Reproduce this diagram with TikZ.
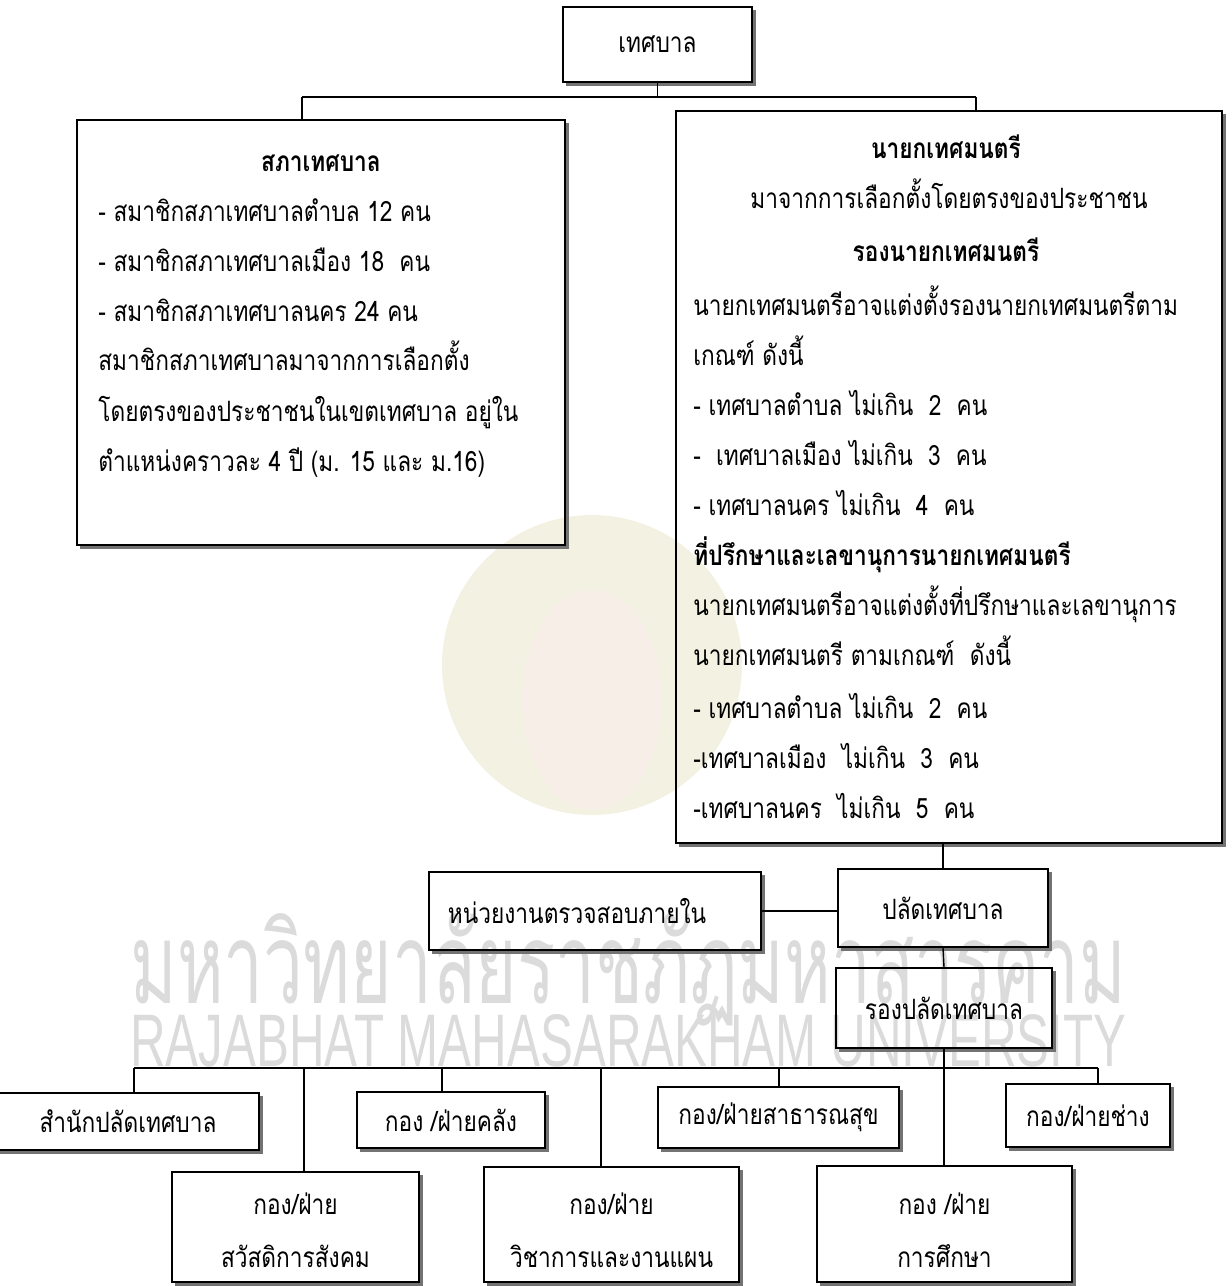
\documentclass[tikz,border=0pt]{standalone}
\usepackage{fontspec}
\setmainfont[Script=Thai, FakeStretch=0.81]{Loma}
\newfontfamily\wmthai[Script=Thai]{Loma}
\newfontfamily\wmlatin{Liberation Sans}
\usetikzlibrary{calc}
\tikzset{
  box/.style={draw, line width=0.75pt, rectangle, inner sep=0pt, align=center, font=\fontsize{14}{26.5}\selectfont},
  conn/.style={line width=0.7pt},
  shadowline/.style={line width=1.1pt, draw=black!55},
  ln/.style={inner sep=0pt, anchor=base west, font=\fontsize{14}{14}\selectfont},
  lc/.style={inner sep=0pt, anchor=base, font=\fontsize{14}{14}\selectfont},
  hd/.style={lc, font=\fontsize{14}{14}\selectfont\bfseries},
  hdl/.style={ln, font=\fontsize{14}{14}\selectfont\bfseries},
  wm/.style={inner sep=0pt, text=black!14},
}
\begin{document}
\begin{tikzpicture}[x=0.5pt,y=-0.5pt]
\useasboundingbox (0,0) rectangle (1232,1286);
% watermark
\fill[fill={rgb,255:red,243;green,242;blue,226}] (592,665) circle (150);
\fill[fill={rgb,255:red,247;green,238;blue,231}] (592,700) ellipse (70 and 110);
\node[wm, anchor=base west] (wmth) at (130,1003) {\resizebox{498pt}{45pt}{\wmthai มหาวิทยาลัยราชภัฏมหาสารคาม}};
\node[wm, anchor=base west] (wmen) at (130,1066) {\resizebox{498pt}{26pt}{\wmlatin RAJABHAT MAHASARAKHAM UNIVERSITY}};

% boxes
\node[box, minimum width=94.5pt, minimum height=37.5pt] (top) at (657.5,44.5) {เทศบาล};
\node[box, minimum width=244pt, minimum height=212.5pt] (sapha) at (321,332.5) {};
\node[box, minimum width=273pt, minimum height=366pt] (nayok) at (949,477) {};
\node[box, minimum width=166pt, minimum height=39pt] (audit) at (595,911) {\hspace*{-18pt}หน่วยงานตรวจสอบภายใน};
\node[box, minimum width=105pt, minimum height=39pt] (palad) at (943,908) {ปลัดเทศบาล};
\node[box, minimum width=108pt, minimum height=40pt] (rong) at (944,1008) {รองปลัดเทศบาล};
\node[box, minimum width=131pt, minimum height=28.5pt] (samnak) at (128,1121.5) {สำนักปลัดเทศบาล};
\node[box, minimum width=94pt, minimum height=28pt] (khlang) at (451,1120) {กอง /ฝ่ายคลัง};
\node[box, minimum width=120.5pt, minimum height=30.5pt] (satha) at (778.5,1117.5) {กอง/ฝ่ายสาธารณสุข};
\node[box, minimum width=82pt, minimum height=31.5pt] (chang) at (1088,1115.5) {กอง/ฝ่ายช่าง};
\node[box, minimum width=123.5pt, minimum height=55pt] (sawat) at (295.5,1227) {};
\node[box, minimum width=127.5pt, minimum height=57.5pt] (wicha) at (611.5,1224.5) {};
\node[box, minimum width=127.5pt, minimum height=58pt] (suksa) at (944.5,1224) {};

% texts of the two-line boxes
\node[lc] (sawat1) at (sawat.center |- 0,1214) {กอง/ฝ่าย};
\node[lc] (sawat2) at (sawat.center |- 0,1267) {สวัสดิการสังคม};
\node[lc] (wicha1) at (wicha.center |- 0,1214) {กอง/ฝ่าย};
\node[lc] (wicha2) at (wicha.center |- 0,1267) {วิชาการและงานแผน};
\node[lc] (suksa1) at (suksa.center |- 0,1214) {กอง /ฝ่าย};
\node[lc] (suksa2) at (suksa.center |- 0,1267) {การศึกษา};

% shadows
\foreach \n in {top,sapha,nayok,audit,palad,rong,samnak,khlang,satha,chang,sawat,wicha,suksa}
  \draw[shadowline] ([xshift=0.9pt,yshift=-2pt]\n.north east) -- ([xshift=0.9pt,yshift=-0.9pt]\n.south east) -- ([xshift=2pt,yshift=-0.9pt]\n.south west);

% text of sapha
\node[hd] (s1) at (321,171) {สภาเทศบาล};
\node[ln] (s2) at (98,221) {- สมาชิกสภาเทศบาลตำบล 12 คน};
\node[ln] (s3) at (98,271) {- สมาชิกสภาเทศบาลเมือง 18~ คน};
\node[ln] (s4) at (98,321) {- สมาชิกสภาเทศบาลนคร 24 คน};
\node[ln] (s5) at (98,370) {สมาชิกสภาเทศบาลมาจากการเลือกตั้ง};
\node[ln] (s6) at (98,421) {โดยตรงของประชาชนในเขตเทศบาล อยู่ใน};
\node[ln] (s7) at (98,471) {ตำแหน่งคราวละ 4 ปี (ม. 15 และ ม.16)};

% text of nayok
\node[hd] (n1) at (946,158) {นายกเทศมนตรี};
\node[lc] (n2) at (949,208) {มาจากการเลือกตั้งโดยตรงของประชาชน};
\node[hd] (n3) at (946,261) {รองนายกเทศมนตรี};
\node[ln] (n4) at (693,315) {นายกเทศมนตรีอาจแต่งตั้งรองนายกเทศมนตรีตาม};
\node[ln] (n5) at (693,365) {เกณฑ์ ดังนี้};
\node[ln] (n6) at (693,415) {- เทศบาลตำบล ไม่เกิน~ 2~ คน};
\node[ln] (n7) at (693,465) {-~ เทศบาลเมือง ไม่เกิน~ 3~ คน};
\node[ln] (n8) at (693,515) {- เทศบาลนคร ไม่เกิน~ 4~ คน};
\node[hdl] (n9) at (693,565) {ที่ปรึกษาและเลขานุการนายกเทศมนตรี};
\node[ln] (n10) at (693,615) {นายกเทศมนตรีอาจแต่งตั้งที่ปรึกษาและเลขานุการ};
\node[ln] (n11) at (693,665) {นายกเทศมนตรี ตามเกณฑ์~ ดังนี้};
\node[ln] (n12) at (693,718) {- เทศบาลตำบล ไม่เกิน~ 2~ คน};
\node[ln] (n13) at (693,768) {-เทศบาลเมือง~ ไม่เกิน~ 3~ คน};
\node[ln] (n14) at (693,818) {-เทศบาลนคร~ ไม่เกิน~ 5~ คน};

% connectors top
\coordinate (hL) at (302,97);
\coordinate (hR) at (976,97);
\draw[conn] (top.south) -- (top.south |- hL);
\draw[conn] (hL) -- (hR);
\draw[conn] (hL) -- (hL |- sapha.north);
\draw[conn] (hR) -- (hR |- nayok.north);
% middle
\draw[conn] (palad.north |- nayok.south) -- (palad.north);
\draw[conn] (audit.east) -- (audit.east -| palad.west);
\draw[conn] (palad.south) -- (rong.north);
\draw[conn] (rong.south) -- (rong.south |- suksa.north);
% bottom tree
\coordinate (bL) at (134,1068);
\coordinate (bR) at (1098,1068);
\coordinate (dSawat) at (304,1068);
\coordinate (dKhlang) at (442,1068);
\coordinate (dWicha) at (601,1068);
\coordinate (dSatha) at (779,1068);
\draw[conn] (bL) -- (bR);
\draw[conn] (bL) -- (bL |- samnak.north);
\draw[conn] (dSawat) -- (dSawat |- sawat.north);
\draw[conn] (dKhlang) -- (dKhlang |- khlang.north);
\draw[conn] (dWicha) -- (dWicha |- wicha.north);
\draw[conn] (dSatha) -- (dSatha |- satha.north);
\draw[conn] (bR) -- (bR |- chang.north);
\end{tikzpicture}
\end{document}
